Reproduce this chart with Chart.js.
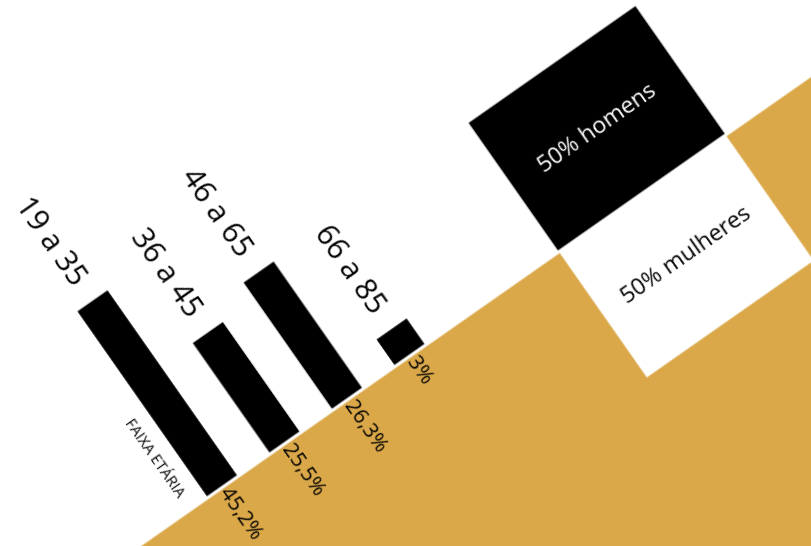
<!DOCTYPE html>
<html><head><meta charset="utf-8">
<script src="https://cdn.jsdelivr.net/npm/chart.js@4.4.0/dist/chart.umd.min.js"></script>
<style>
html,body{margin:0;padding:0;width:811px;height:546px;overflow:hidden;background:#fff;}
#wrap{position:absolute;left:-142px;top:-300px;width:1150px;height:1050px;transform-origin:700px 550px;transform:rotate(-35deg);}
canvas{display:block;}
</style></head><body>
<div id="wrap"><canvas id="c" width="1150" height="1050"></canvas></div>
<script>
// ---- data ----
const ageGroups = ['19 a 35', '36 a 45', '46 a 65', '66 a 85'];
const ageShareLabels = ['45,2%', '25,5%', '26,3%', '3%'];
// drawn bar lengths (scaled so the first bar = 45.2)
const ageBarHeights = [45.2, 26.7, 30.8, 6.1];
const sexLabels = ['50% homens', '50% mulheres'];
const sexValues = [50, 50];
const axisTitle = 'FAIXA ETÁRIA';

// ---- layout constants ----
const CW = 1150, CH = 1050, PX0 = 700, PY0 = 550;
const SLOT = 76.3, FIRST_S = -410.5, BOX_S = 101.5;
const K_AGE = 225 / 45.2, K_SEX = 155 / 50, GAP = 3.5;
const GOLD = '#DAA848';
const FONT = '"Open Sans", "Noto Sans", sans-serif';

const xAt = s => 1 + (s - FIRST_S) / SLOT;
const boxX = xAt(BOX_S);

const goldPlugin = {
  id: 'gold',
  beforeDatasetsDraw(chart) {
    const ctx = chart.ctx, a = chart.chartArea;
    const y0 = chart.scales.y.getPixelForValue(0) + GAP;
    ctx.save();
    ctx.fillStyle = GOLD;
    ctx.fillRect(a.left, y0, a.right - a.left, a.bottom - y0);
    ctx.restore();
  }
};

const labelPlugin = {
  id: 'labels',
  afterDatasetsDraw(chart) {
    const ctx = chart.ctx;
    const y0 = chart.scales.y.getPixelForValue(0);
    const bars = chart.getDatasetMeta(0).data;
    ctx.save();
    ctx.textBaseline = 'middle';
    bars.forEach((el, i) => {
      // category label above bar, reading downwards
      ctx.save();
      ctx.translate(el.x, el.y - 22);
      ctx.rotate(Math.PI / 2);
      ctx.textAlign = 'right';
      ctx.fillStyle = '#000';
      ctx.font = '30px ' + FONT;
      ctx.fillText(ageGroups[i], 0, 0);
      ctx.restore();
      // share label below baseline
      ctx.save();
      ctx.translate(el.x, y0 + 5);
      ctx.rotate(Math.PI / 2);
      ctx.textAlign = 'left';
      ctx.fillStyle = '#000';
      ctx.font = '21px ' + FONT;
      ctx.fillText(ageShareLabels[i], 0, 0);
      ctx.restore();
    });
    // axis title
    const b0 = bars[0];
    ctx.save();
    ctx.translate(b0.x - 39, y0 - 14);
    ctx.rotate(Math.PI / 2);
    ctx.textAlign = 'right';
    ctx.fillStyle = '#000';
    ctx.font = '15px ' + FONT;
    ctx.fillText(axisTitle, 0, 0);
    ctx.restore();
    // sex boxes text
    const hm = chart.getDatasetMeta(1).data[0];
    const mw = chart.getDatasetMeta(2).data[0];
    ctx.textAlign = 'center';
    ctx.font = '23px ' + FONT;
    ctx.fillStyle = '#fff';
    ctx.fillText(sexLabels[0], hm.x, (hm.y + hm.base) / 2);
    ctx.fillStyle = '#000';
    ctx.fillText(sexLabels[1], mw.x, (mw.y + mw.base) / 2);
    ctx.restore();
  }
};

new Chart(document.getElementById('c'), {
  type: 'bar',
  data: {
    datasets: [
      { label: 'Faixa etária', data: ageGroups.map((g, i) => ({ x: i + 1, y: ageBarHeights[i] })),
        backgroundColor: '#000', barThickness: 36, grouped: false, yAxisID: 'y' },
      { label: 'Homens', data: [{ x: boxX, y: sexValues[0] }],
        backgroundColor: '#000', barThickness: 203, grouped: false, yAxisID: 'ySex' },
      { label: 'Mulheres', data: [{ x: boxX, y: -sexValues[1] }],
        backgroundColor: '#fff', barThickness: 203, grouped: false, yAxisID: 'ySex' }
    ]
  },
  options: {
    responsive: false,
    animation: false,
    devicePixelRatio: 2,
    events: [],
    layout: { padding: 0 },
    plugins: { legend: { display: false }, tooltip: { enabled: false } },
    scales: {
      x: { type: 'linear', display: false, offset: false, min: xAt(-PX0), max: xAt(CW - PX0) },
      y: { type: 'linear', display: false, min: -(CH - PY0) / K_AGE, max: PY0 / K_AGE },
      ySex: { type: 'linear', display: false, min: -(CH - PY0) / K_SEX, max: PY0 / K_SEX }
    }
  },
  plugins: [goldPlugin, labelPlugin]
});
</script>
</body></html>
